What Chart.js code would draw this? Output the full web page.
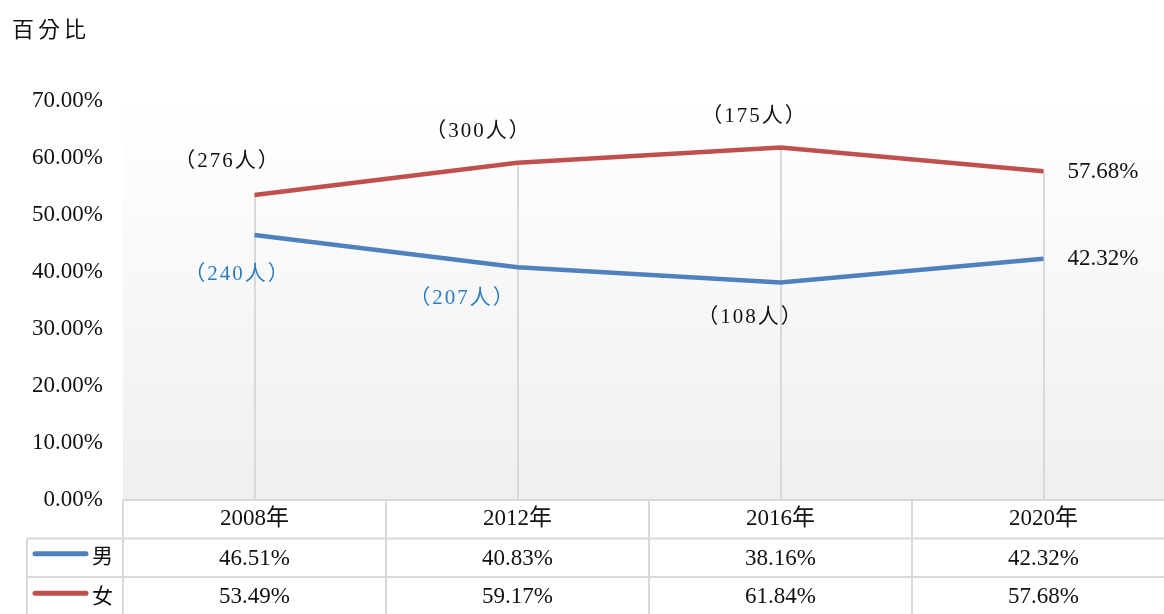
<!DOCTYPE html>
<html><head><meta charset="utf-8">
<script src="https://cdn.jsdelivr.net/npm/chart.js@4/dist/chart.umd.min.js"></script>
<style>
html,body{margin:0;padding:0;background:#fff;overflow:hidden;width:1164px;height:614px}
#wrap{position:absolute;left:0;top:0;width:1180px;height:614px}
#title{position:absolute;left:12px;top:12px;font:22px "Noto Sans CJK TC";letter-spacing:4px;color:#111;line-height:30px}
</style></head><body>
<div id="wrap"><canvas id="c" width="1180" height="614"></canvas></div>
<div id="title">百分比</div>
<script>
const categories = ['2008年', '2012年', '2016年', '2020年'];
const seriesNames = ['男', '女'];
const maleValues = [46.51, 40.83, 38.16, 42.32];
const femaleValues = [53.49, 59.17, 61.84, 57.68];
const maleLabels = ['（240人）', '（207人）', '（108人）', '42.32%'];
const femaleLabels = ['（276人）', '（300人）', '（175人）', '57.68%'];
const yTickValues = [0, 10, 20, 30, 40, 50, 60, 70];

const FONT = '"Liberation Serif", "Noto Sans CJK TC", serif';
const MALE_COLOR = '#4f81bd';
const FEMALE_COLOR = '#c0504d';
const GRID = '#d9d9d9';

// label placement (offset from the point) — style config, not data
const labelStyle = {
  0: [ {dx:-18, dy:40, align:'center', color:'#2a7ec2'},
       {dx:-56, dy:31, align:'center', color:'#2a7ec2'},
       {dx:-31, dy:35, align:'center', color:'#111'},
       {dx:24, dy:0, align:'left', color:'#111'} ],
  1: [ {dx:-28, dy:-34, align:'center', color:'#111'},
       {dx:-40, dy:-31, align:'center', color:'#111'},
       {dx:-27, dy:-31, align:'center', color:'#111'},
       {dx:24, dy:1, align:'left', color:'#111'} ]
};
const allLabels = [maleLabels, femaleLabels];

const backPlugin = {
  id: 'back',
  beforeDatasetsDraw(chart) {
    const {ctx, chartArea: a, scales: {x, y}} = chart;
    ctx.save();
    const g = ctx.createLinearGradient(0, a.top, 0, a.bottom);
    g.addColorStop(0, '#ffffff');
    g.addColorStop(1, '#efefef');
    ctx.fillStyle = g;
    ctx.fillRect(a.left, a.top, a.right - a.left, a.bottom - a.top);
    ctx.strokeStyle = GRID;
    ctx.lineWidth = 2;
    categories.forEach((c, i) => {
      const px = Math.round(x.getPixelForValue(i));
      const top = y.getPixelForValue(Math.max(maleValues[i], femaleValues[i]));
      ctx.beginPath();
      ctx.moveTo(px, top);
      ctx.lineTo(px, a.bottom);
      ctx.stroke();
    });
    ctx.restore();
  },
  afterDatasetsDraw(chart) {
    const {ctx} = chart;
    ctx.save();
    ctx.textBaseline = 'middle';
    chart.data.datasets.forEach((ds, di) => {
      const meta = chart.getDatasetMeta(di);
      meta.data.forEach((pt, i) => {
        const st = labelStyle[di][i];
        ctx.fillStyle = st.color;
        ctx.textAlign = st.align;
        if (st.align === 'left') {
          ctx.font = '23px ' + FONT;
          ctx.letterSpacing = '0px';
          ctx.fillText(allLabels[di][i], pt.x + st.dx, pt.y + st.dy);
        } else {
          ctx.font = '21px ' + FONT;
          ctx.letterSpacing = '2px';
          ctx.fillText(allLabels[di][i], pt.x + st.dx + 1, pt.y + st.dy);
        }
      });
    });
    ctx.restore();
  },
  afterDraw(chart) {
    const {ctx, chartArea: a, scales: {x}} = chart;
    const half = (x.getPixelForValue(1) - x.getPixelForValue(0)) / 2;
    const rowH = 38.5;
    const r0 = a.bottom, r1 = r0 + rowH, r2 = r1 + rowH, r3 = r2 + rowH + 2;
    const legendLeft = 27;
    const right = x.getPixelForValue(categories.length - 1) + half;
    ctx.save();
    ctx.strokeStyle = GRID;
    ctx.lineWidth = 2;
    ctx.beginPath();
    ctx.moveTo(a.left, r0); ctx.lineTo(right, r0);
    ctx.moveTo(legendLeft, r1); ctx.lineTo(right, r1);
    ctx.moveTo(legendLeft, r2); ctx.lineTo(right, r2);
    ctx.moveTo(legendLeft, r1); ctx.lineTo(legendLeft, r3);
    for (let i = 0; i < categories.length; i++) {
      const lx = Math.round(x.getPixelForValue(i) - half);
      ctx.moveTo(lx, r0); ctx.lineTo(lx, r3);
    }
    ctx.stroke();
    ctx.fillStyle = '#111';
    ctx.textAlign = 'center';
    ctx.textBaseline = 'middle';
    ctx.font = '23px ' + FONT;
    categories.forEach((c, i) => {
      const cx = x.getPixelForValue(i);
      ctx.fillText(c, cx, (r0 + r1) / 2);
      ctx.fillText(maleValues[i].toFixed(2) + '%', cx, (r1 + r2) / 2 + 1);
      ctx.fillText(femaleValues[i].toFixed(2) + '%', cx, (r2 + r3) / 2);
    });
    const colors = [MALE_COLOR, FEMALE_COLOR];
    [ (r1 + r2) / 2 - 4, (r2 + r3) / 2 - 4 ].forEach((cy, k) => {
      ctx.strokeStyle = colors[k];
      ctx.lineWidth = 5;
      ctx.lineCap = 'round';
      ctx.beginPath();
      ctx.moveTo(35, cy); ctx.lineTo(86, cy);
      ctx.stroke();
      ctx.textAlign = 'left';
      ctx.font = '21px ' + FONT;
      ctx.fillText(seriesNames[k], 92, cy + 4);
    });
    ctx.restore();
  }
};

new Chart(document.getElementById('c'), {
  type: 'line',
  data: {
    labels: categories,
    datasets: [
      {label: seriesNames[0], data: maleValues, borderColor: MALE_COLOR, backgroundColor: MALE_COLOR,
       borderWidth: 4.5, pointRadius: 0, tension: 0, borderCapStyle: 'butt'},
      {label: seriesNames[1], data: femaleValues, borderColor: FEMALE_COLOR, backgroundColor: FEMALE_COLOR,
       borderWidth: 4.5, pointRadius: 0, tension: 0, borderCapStyle: 'butt'}
    ]
  },
  options: {
    responsive: false,
    animation: false,
    events: [],
    layout: {padding: {top: 101, bottom: 114, right: 5, left: 0}},
    plugins: {legend: {display: false}, tooltip: {enabled: false}, title: {display: false}},
    scales: {
      x: {type: 'category', display: false, offset: true},
      y: {
        min: 0, max: 70,
        afterBuildTicks(s) { s.ticks = yTickValues.map(v => ({value: v})); },
        afterFit(s) { s.width = 123; },
        grid: {display: false},
        border: {display: false},
        ticks: {
          padding: 12, color: '#111',
          font: {family: FONT, size: 23},
          callback: v => Number(v).toFixed(2) + '%'
        }
      }
    }
  },
  plugins: [backPlugin]
});
</script>
</body></html>
